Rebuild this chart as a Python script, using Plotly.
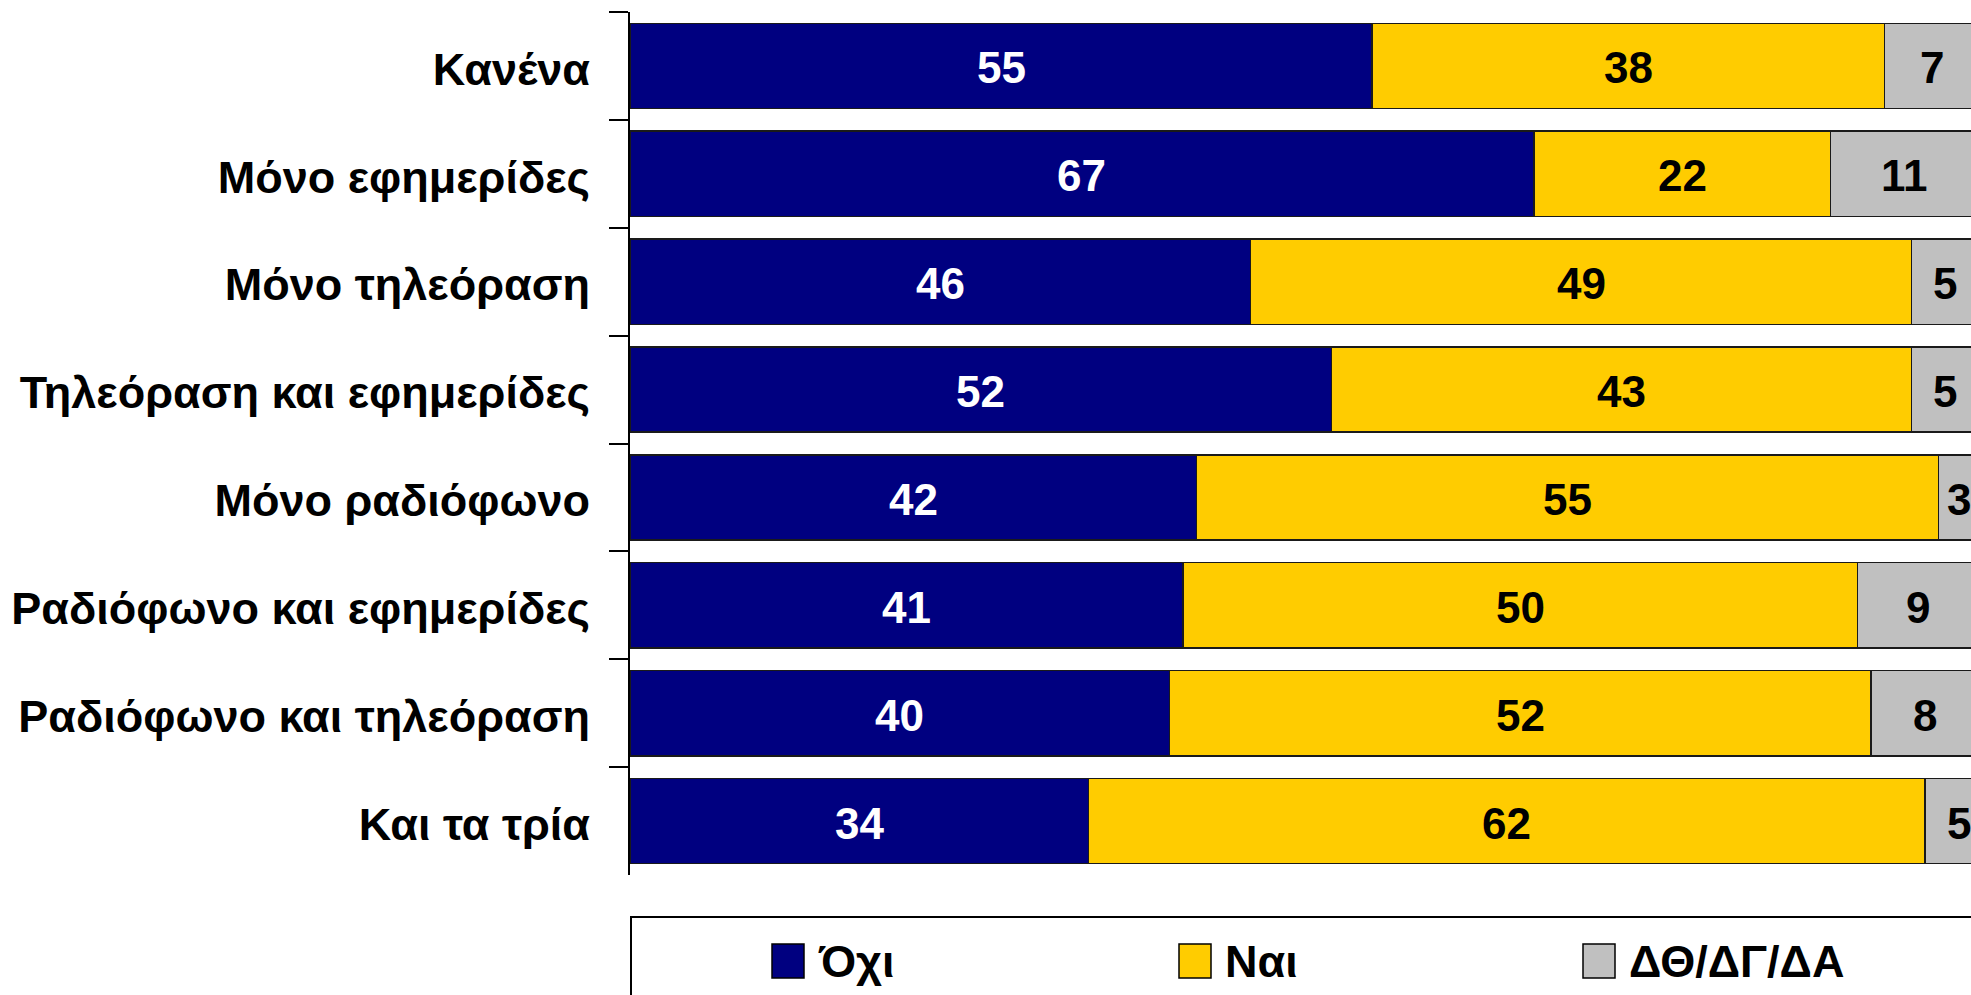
import plotly.graph_objects as go

categories = ["Κανένα", "Μόνο εφημερίδες", "Μόνο τηλεόραση", "Τηλεόραση και εφημερίδες",
              "Μόνο ραδιόφωνο", "Ραδιόφωνο και εφημερίδες", "Ραδιόφωνο και τηλεόραση", "Και τα τρία"]
series_names = ["Όχι", "Ναι", "ΔΘ/ΔΓ/ΔΑ"]
ochi = [55, 67, 46, 52, 42, 41, 40, 34]
nai = [38, 22, 49, 43, 55, 50, 52, 62]
dth = [7, 11, 5, 5, 3, 9, 8, 5]
colors = ["#000080", "#FFCC00", "#C0C0C0"]
text_colors = ["white", "black", "black"]

FONT = "Liberation Sans, Arial, sans-serif"
W, H = 1971, 995
ML, MR, MT, MB = 630, 0, 12, 995 - 875

fig = go.Figure()
series = [ochi, nai, dth]
for name, vals, col in zip(series_names, series, colors):
    fig.add_trace(go.Bar(y=categories, x=vals, orientation="h", name=name,
                         marker=dict(color=col, line=dict(color="#1a1a1a", width=1.5)),
                         showlegend=False, hoverinfo="x+y"))

annotations = []
# data labels centered in each segment
base = [0] * len(categories)
for vals, tc in zip(series, text_colors):
    for cat, b, v in zip(categories, base, vals):
        annotations.append(dict(x=b + v / 2, y=cat, xref="x", yref="y", text=str(v),
                                showarrow=False, xanchor="center", yanchor="middle", yshift=-2,
                                font=dict(family=FONT, size=44, color=tc, weight="bold")))
    base = [b + v for b, v in zip(base, vals)]

pw = W - ML - MR
ph = H - MT - MB
def px_x(p):  # page pixel -> paper
    return (p - ML) / pw
def px_y(p):
    return (H - MB - p) / ph

shapes = [dict(type="rect", xref="paper", yref="paper", x0=px_x(631), x1=px_x(1990),
               y0=px_y(917), y1=px_y(1010), line=dict(color="black", width=2), fillcolor="white")]
leg_x = [772, 1179, 1583]
for lx, name, col in zip(leg_x, series_names, colors):
    shapes.append(dict(type="rect", xref="paper", yref="paper", x0=px_x(lx), x1=px_x(lx + 32),
                       y0=px_y(978), y1=px_y(944), line=dict(color="black", width=1.5), fillcolor=col))
    annotations.append(dict(xref="paper", yref="paper", x=px_x(lx + 44), y=px_y(962),
                            text=name, showarrow=False, xanchor="left", yanchor="middle",
                            font=dict(family=FONT, size=45, color="black", weight="bold")))

fig.update_layout(
    barmode="stack", bargap=0.21,
    width=W, height=H,
    margin=dict(l=ML, r=MR, t=MT, b=MB, pad=0, autoexpand=False),
    plot_bgcolor="white", paper_bgcolor="white",
    shapes=shapes, annotations=annotations,
    xaxis=dict(range=[0, 99.4], visible=False, fixedrange=True, automargin=False),
    yaxis=dict(categoryorder="array", categoryarray=categories, range=[7.5, -0.5],
               automargin=False,
               showline=True, linecolor="black", linewidth=2,
               ticks="outside", tickson="boundaries", ticklen=19, tickwidth=2, tickcolor="black",
               ticklabelstandoff=29, ticklabelshift=-3,
               tickfont=dict(family=FONT, size=45, color="black", weight="bold"),
               showgrid=False, zeroline=False, fixedrange=True),
)
fig.write_html("out.html", config={"displayModeBar": False},
               post_script="document.body.style.margin='0px';document.body.style.overflow='hidden';")
